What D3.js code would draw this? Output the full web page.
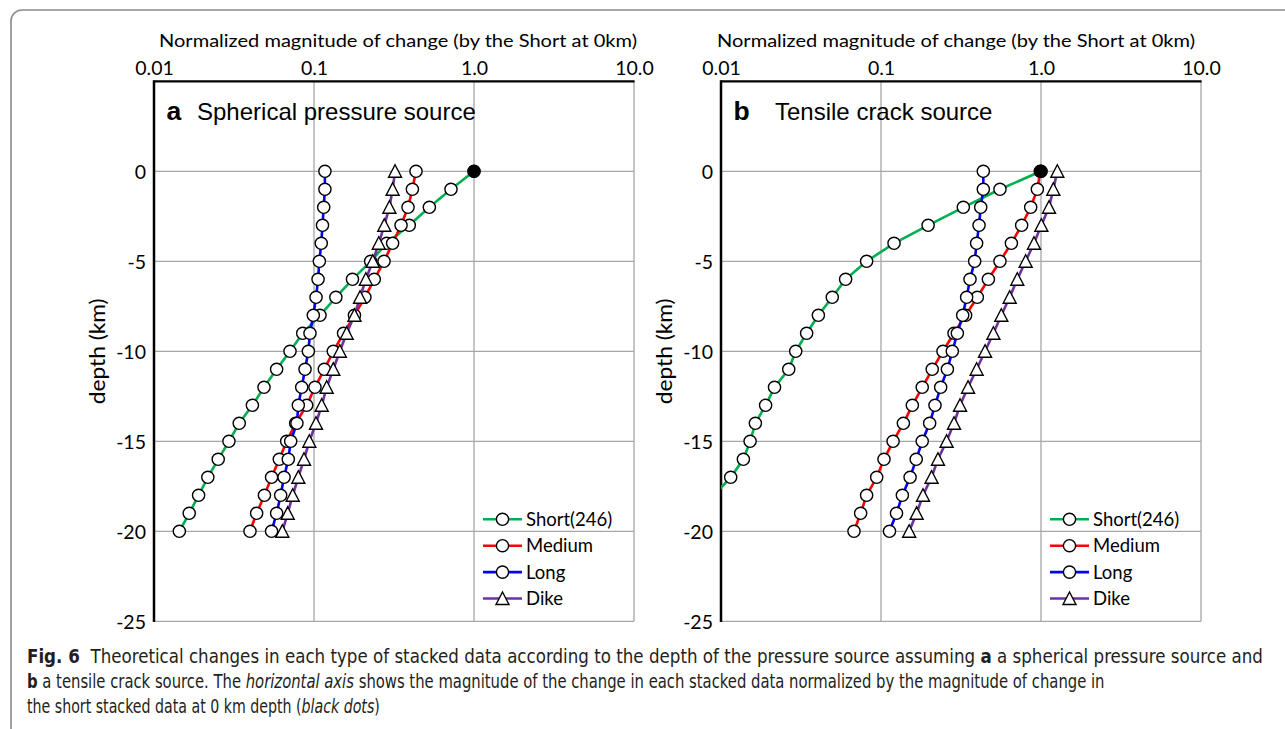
<!DOCTYPE html>
<html><head><meta charset="utf-8">
<script src="https://cdn.jsdelivr.net/npm/d3@7"></script>
<style>body{margin:0;background:#fff} svg{display:block}</style>
</head><body>
<svg id="chart" width="1285" height="729"></svg>
<script>
// ---------- data ----------
const depths = [0,-1,-2,-3,-4,-5,-6,-7,-8,-9,-10,-11,-12,-13,-14,-15,-16,-17,-18,-19,-20];
const seriesNames = ["Short(246)","Medium","Long","Dike"];
const xTickValues = [0.01,0.1,1,10];
const xTickLabels = ["0.01","0.1","1.0","10.0"];
const yTickValues = [0,-5,-10,-15,-20,-25];
const xTitle = "Normalized magnitude of change (by the Short at 0km)";
const yTitle = "depth (km)";

// panel a: spherical pressure source
const aShort  = [1.0,0.718,0.526,0.394,0.285,0.226,0.174,0.137,0.109,0.085,0.0708,0.0584,0.0487,0.0412,0.0341,0.0294,0.0252,0.0217,0.0190,0.0166,0.0144];
const aMedium = [0.434,0.412,0.387,0.350,0.310,0.274,0.238,0.208,0.179,0.153,0.132,0.116,0.1014,0.090,0.0768,0.0675,0.0607,0.0543,0.0490,0.0438,0.0398];
const aLong   = [0.117,0.117,0.115,0.113,0.111,0.108,0.106,0.103,0.099,0.0944,0.0922,0.0879,0.0838,0.0798,0.0782,0.0715,0.0691,0.065,0.0619,0.0584,0.0543];
const aDike   = [0.321,0.310,0.296,0.275,0.254,0.233,0.211,0.194,0.179,0.160,0.145,0.132,0.120,0.1117,0.1029,0.0935,0.0866,0.0798,0.0736,0.0685,0.0634];

// panel b: tensile crack source
const bShort  = [1.0,0.554,0.327,0.197,0.1206,0.0813,0.0601,0.0496,0.0406,0.0343,0.0293,0.0265,0.0216,0.0190,0.0164,0.0152,0.0138,0.0115,0.0090];
const bMedium = [0.99,0.949,0.862,0.757,0.653,0.554,0.469,0.400,0.338,0.286,0.244,0.209,0.181,0.157,0.138,0.119,0.1044,0.094,0.0813,0.0746,0.0678];
const bLong   = [0.436,0.436,0.420,0.410,0.396,0.385,0.360,0.343,0.324,0.300,0.279,0.260,0.236,0.2175,0.2014,0.181,0.166,0.152,0.136,0.125,0.113];
const bDike   = [1.265,1.194,1.122,1.005,0.904,0.802,0.711,0.637,0.565,0.504,0.447,0.396,0.350,0.312,0.286,0.257,0.227,0.207,0.183,0.167,0.150];

// ---------- drawing ----------
const svg = d3.select("#chart");
const FONT = "Lato, 'Open Sans', sans-serif";
const ARIAL = "'Liberation Sans', Arial, sans-serif";
const colors = ["#00b050","#ff0000","#0000ff","#7030a0"];
const markers = ["circle","circle","circle","triangle"];
const GRID = "#a6a6a6";

// outer border
svg.append("path")
  .attr("d","M11,735 V21 A11,11 0 0 1 22,10 H1290")
  .attr("fill","none").attr("stroke","#8a8a8a").attr("stroke-width",1.6);

function drawMarker(sel, type){
  if(type==="circle"){
    sel.append("circle").attr("r",6.1).attr("fill","#fff").attr("stroke","#000").attr("stroke-width",1.4);
  } else {
    sel.append("path").attr("d","M0,-6.5 L6.5,6 L-6.5,6 Z").attr("fill","#fff").attr("stroke","#000").attr("stroke-width",1.4);
  }
}

function panel(cfg){
  const x = d3.scaleLog().domain([0.01,10]).range([cfg.x0, cfg.x0+480]);
  const y = d3.scaleLinear().domain([-25,5]).range([621.3,81.3]);
  const g = svg.append("g");
  const clipId = "clip"+cfg.letter;
  g.append("clipPath").attr("id",clipId).append("rect")
    .attr("x",x(0.01)).attr("y",y(5)).attr("width",x(10)-x(0.01)).attr("height",y(-25)-y(5));

  // gridlines
  g.selectAll("line.vg").data(xTickValues.slice(1)).join("line")
    .attr("x1",d=>x(d)).attr("x2",d=>x(d)).attr("y1",y(5)).attr("y2",y(-25))
    .attr("stroke",GRID).attr("stroke-width",1.3);
  g.selectAll("line.hg").data(yTickValues).join("line")
    .attr("x1",x(0.01)).attr("x2",x(10)).attr("y1",d=>y(d)).attr("y2",d=>y(d))
    .attr("stroke",GRID).attr("stroke-width",1.3);
  // black frame edges (top, left)
  g.append("line").attr("x1",x(0.01)).attr("x2",x(10)+0.6).attr("y1",y(5)).attr("y2",y(5))
    .attr("stroke","#000").attr("stroke-width",2.3);
  g.append("line").attr("x1",x(0.01)).attr("x2",x(0.01)).attr("y1",y(5)-1).attr("y2",y(-25)+0.6)
    .attr("stroke","#000").attr("stroke-width",2.5);

  // axes (labels only)
  const ax = g.append("g").attr("transform",`translate(0,${y(5)})`)
    .call(d3.axisTop(x).tickValues(xTickValues).tickFormat((d,i)=>xTickLabels[i]).tickSize(0).tickPadding(6.5));
  const ay = g.append("g").attr("transform",`translate(${x(0.01)},0)`)
    .call(d3.axisLeft(y).tickValues(yTickValues).tickFormat(d=>d).tickSize(0).tickPadding(8));
  [ax,ay].forEach(a=>{
    a.select(".domain").remove();
    a.selectAll("text").attr("font-family",FONT).attr("font-size",19.5).attr("fill","#000");
  });
  ay.selectAll("text").attr("dy","0.36em");

  // axis titles
  g.append("text").attr("x",cfg.titleX).attr("y",46.5)
    .attr("font-family",FONT).attr("font-size",17.5).attr("fill","#000").text(xTitle)
    .attr("textLength",478).attr("lengthAdjust","spacingAndGlyphs");
  g.append("text").attr("transform",`translate(${x(0.01)-56},${(y(5)+y(-25))/2}) rotate(-90)`)
    .attr("text-anchor","middle").attr("dy","0.35em")
    .attr("font-family",FONT).attr("font-size",21).attr("fill","#000").text(yTitle)
    .attr("textLength",106).attr("lengthAdjust","spacingAndGlyphs");

  // panel label
  g.append("text").attr("x",x(0.01)+12.5).attr("y",120)
    .attr("font-family",ARIAL).attr("font-weight","bold").attr("font-size",26.5).text(cfg.letter);
  g.append("text").attr("x",cfg.subX).attr("y",120)
    .attr("font-family",ARIAL).attr("font-size",24).text(cfg.subtitle);

  // series
  const plot = g.append("g").attr("clip-path",`url(#${clipId})`);
  const line = d3.line().x(d=>x(d.v)).y(d=>y(d.d));
  cfg.series.forEach((vals,i)=>{
    const pts = vals.map((v,k)=>({v, d:depths[k]}));
    plot.append("path").datum(pts).attr("d",line)
      .attr("fill","none").attr("stroke",colors[i]).attr("stroke-width",2.6);
    const mk = plot.selectAll(null).data(pts).join("g")
      .attr("transform",d=>`translate(${x(d.v)},${y(d.d)})`);
    drawMarker(mk, markers[i]);
  });
  // black dot: Short at 0 km (normalizer)
  plot.append("circle").attr("cx",x(cfg.series[0][0])).attr("cy",y(depths[0])).attr("r",6.6).attr("fill","#000");

  // legend
  const lx = x(10)-151;
  seriesNames.forEach((name,i)=>{
    const ly = 519.3 + i*26.4;
    const lg = g.append("g").attr("transform",`translate(${lx},${ly})`);
    lg.append("line").attr("x1",0).attr("x2",39).attr("stroke",colors[i]).attr("stroke-width",2.6);
    drawMarker(lg.append("g").attr("transform","translate(19.5,0)"), markers[i]);
    lg.append("text").attr("x",43).attr("dy","0.36em").attr("font-family",FONT)
      .attr("font-size",18.5).attr("fill","#000").text(name);
  });
}

panel({x0:154, letter:"a", subtitle:"Spherical pressure source", series:[aShort,aMedium,aLong,aDike], titleX:159, subX:197});
panel({x0:721, letter:"b", subtitle:"Tensile crack source", series:[bShort,bMedium,bLong,bDike], titleX:717, subX:775});

// ---------- caption ----------
const CAPFONT = "'Liberation Sans Narrow','DejaVu Sans Condensed','Liberation Sans',sans-serif";
const capLines = [
  {y:662.7, w:1237, parts:[["Fig. 6","bold"],["  Theoretical changes in each type of stacked data according to the depth of the pressure source assuming ",""],["a","bold"],[" a spherical pressure source and",""]]},
  {y:687.7, w:1078, parts:[["b","bold"],[" a tensile crack source. The ",""],["horizontal axis","italic"],[" shows the magnitude of the change in each stacked data normalized by the magnitude of change in",""]]},
  {y:713, w:353, parts:[["the short stacked data at 0 km depth (",""],["black dots","italic"],[")",""]]}
];
capLines.forEach(L=>{
  const gg = svg.append("g");
  const t = gg.append("text").attr("x",0).attr("y",0).attr("font-family",CAPFONT)
    .attr("font-size",20).attr("fill","#231f20").style("white-space","pre");
  L.parts.forEach(p=>{
    const ts = t.append("tspan").text(p[0]);
    if(p[1]==="bold") ts.attr("font-weight","bold");
    if(p[1]==="italic") ts.attr("font-style","italic");
  });
  const w = t.node().getComputedTextLength();
  gg.attr("transform",`translate(27,${L.y}) scale(${L.w/w},1)`);
});
</script>
</body></html>
